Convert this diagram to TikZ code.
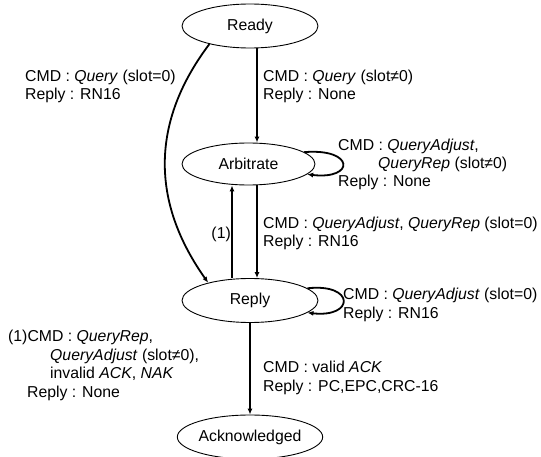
\documentclass[tikz,border=0pt]{standalone}
\usepackage{fontspec}
\setmainfont{Liberation Sans}
\usetikzlibrary{shapes.geometric,arrows.meta}
\begin{document}
\begin{tikzpicture}[x=1pt,y=-1pt,
  every node/.style={font=\fontsize{15.8pt}{18.4pt}\selectfont},
  state/.style={draw,ellipse,line width=0.9pt,inner sep=0pt,minimum width=136pt,minimum height=44pt},
  lab/.style={align=left,anchor=base west,inner sep=0pt},
  arr/.style={line width=1.3pt,-{Latex[length=6pt,width=5pt]}},
  bold arr/.style={line width=1.8pt,-{Latex[length=6pt,width=5pt]}}]
\useasboundingbox (0,0) rectangle (541,457);
\fill[white] (0,0) rectangle (541,457);
% states
\node[state] (ready) at (250,26) {Ready};
\node[state,minimum width=133pt,minimum height=42pt] (arb) at (248.5,164) {Arbitrate};
\node[state] (reply) at (250,300.5) {Reply};
\node[state] (ack) at (250,437) {Acknowledged};
% connectors
\draw[arr] ([xshift=7pt]ready.south) -- ([xshift=8.5pt]arb.north);
\draw[arr] ([xshift=8.5pt]arb.south) -- ([xshift=7pt]reply.north);
\draw[arr] ([xshift=-18pt]reply.north) -- ([xshift=-16.5pt]arb.south);
\draw[arr] (reply.south) -- (ack.north);
\draw[bold arr] (ready.204) .. controls (158,112) and (144,192) .. (reply.157);
\draw[bold arr] (arb.12) .. controls (355,148) and (355,180) .. (arb.-10);
\draw[bold arr] (reply.12) .. controls (355,283) and (355,318) .. (reply.-12);
% labels (anchored at the baseline of their last line)
\node[lab] (l1) at (25,100) {CMD : \textit{Query} (slot=0)\\Reply : RN16};
\node[lab] (l2) at (263,100) {CMD : \textit{Query} (slot≠0)\\Reply : None};
\node[lab] (l3) at (338,187) {CMD : \textit{QueryAdjust},\\\hspace*{40pt}\textit{QueryRep} (slot≠0)\\Reply : None};
\node[lab] (l4) at (263,247) {CMD : \textit{QueryAdjust}, \textit{QueryRep} (slot=0)\\Reply : RN16};
\node[inner sep=0pt,anchor=base east] (l5) at (231,239) {(1)};
\node[lab] (l6) at (343,318) {CMD : \textit{QueryAdjust} (slot=0)\\Reply : RN16};
\node[lab] (l7) at (263,391) {CMD : valid \textit{ACK}\\Reply : PC,EPC,CRC-16};
\node[lab] (l8) at (8,397) {(1)CMD : \textit{QueryRep},\\\hspace*{42pt}\textit{QueryAdjust} (slot≠0),\\\hspace*{42pt}invalid \textit{ACK}, \textit{NAK}\\\hspace*{19pt}Reply : None};
\end{tikzpicture}
\end{document}
